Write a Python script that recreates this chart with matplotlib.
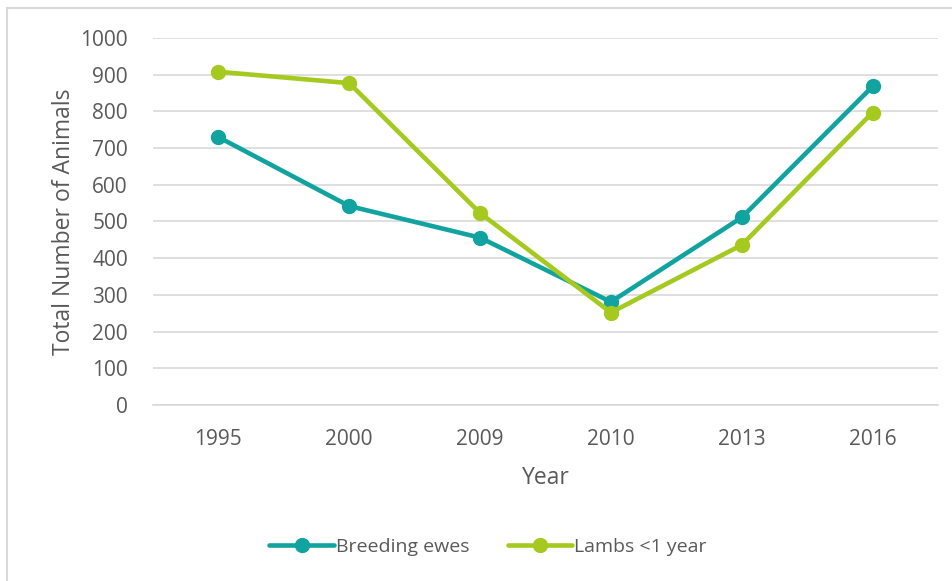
import matplotlib.pyplot as plt
from matplotlib.lines import Line2D

years = ['1995', '2000', '2009', '2010', '2013', '2016']
breeding_ewes = [730, 542, 456, 281, 511, 868]
lambs = [908, 877, 523, 252, 436, 797]

teal = '#11A3A0'
lime = '#A6C91F'
text_gray = '#595959'
grid_gray = '#D9D9D9'

plt.rcParams['font.family'] = ['Open Sans', 'DejaVu Sans']

fig = plt.figure(figsize=(9.53, 5.81), dpi=100)
# chart frame, only its left and top edges fall inside the image
fig.lines.append(Line2D([6.5 / 953, 6.5 / 953], [0, 1 - 8 / 581], transform=fig.transFigure,
                        color=grid_gray, linewidth=1.5))
fig.lines.append(Line2D([6.5 / 953, 1], [1 - 8 / 581, 1 - 8 / 581], transform=fig.transFigure,
                        color=grid_gray, linewidth=1.5))

ax = fig.add_axes([153 / 953, 1 - 405 / 581, (938 - 153) / 953, (405 - 38) / 581])

x = range(len(years))
ax.plot(x, breeding_ewes, color=teal, linewidth=3.3, marker='o', markersize=10,
        label='Breeding ewes', solid_capstyle='round')
ax.plot(x, lambs, color=lime, linewidth=3.3, marker='o', markersize=10,
        label='Lambs <1 year', solid_capstyle='round')

ax.set_xlim(-0.5, len(years) - 0.5)
ax.set_ylim(0, 1000)
ax.set_yticks(range(0, 1001, 100))
ax.set_xticks(list(x))
ax.set_xticklabels(years)
ax.yaxis.grid(True, color=grid_gray, linewidth=1.2)
ax.set_axisbelow(True)
for side in ['top', 'right', 'left']:
    ax.spines[side].set_visible(False)
ax.spines['bottom'].set_color(grid_gray)
ax.spines['bottom'].set_linewidth(1.2)
ax.tick_params(length=0, labelsize=15, labelcolor=text_gray)
ax.tick_params(axis='x', pad=17)
ax.tick_params(axis='y', pad=18)

ax.set_xlabel('Year', fontsize=16.5, color=text_gray, labelpad=12)
ax.set_ylabel('Total Number of Animals', fontsize=16.5, color=text_gray, labelpad=3)

fig.legend(loc='center', bbox_to_anchor=(488 / 953, 1 - 547 / 581), ncol=2,
           frameon=False, fontsize=14, labelcolor=text_gray, handlelength=3.3,
           handletextpad=0.1, columnspacing=2.0)

fig.savefig('out.png', dpi=100)
